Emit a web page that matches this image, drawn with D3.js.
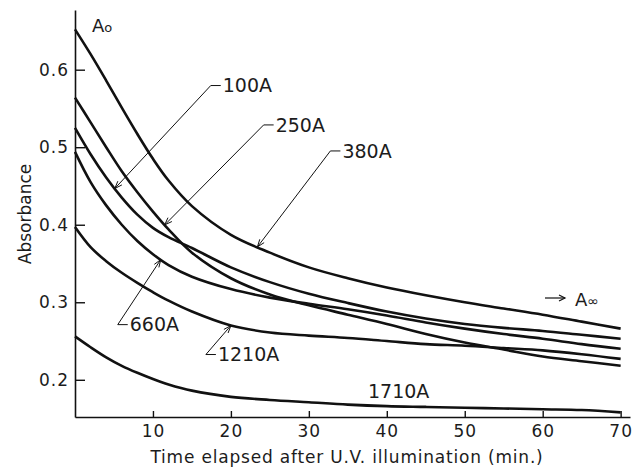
<!DOCTYPE html>
<html>
<head>
<meta charset="utf-8">
<script src="https://cdn.jsdelivr.net/npm/d3@7"></script>
<style>
  body { margin: 0; background: #fff; }
  text { font-family: "DejaVu Sans", sans-serif; fill: #1c1c1c; }
</style>
</head>
<body>
<div id="chart"></div>
<script>
// time (min) and absorbance
const times = [0, 2, 4, 6, 8, 10, 12, 15, 20, 25, 30, 35, 40, 45, 50, 55, 60, 65, 70];
const a380 = [0.652, 0.620, 0.586, 0.551, 0.517, 0.485, 0.457, 0.424, 0.387, 0.364, 0.345, 0.331, 0.319, 0.309, 0.300, 0.292, 0.284, 0.275, 0.266];
const a250 = [0.564, 0.532, 0.500, 0.469, 0.442, 0.417, 0.394, 0.364, 0.331, 0.310, 0.296, 0.284, 0.272, 0.259, 0.248, 0.239, 0.230, 0.224, 0.218];
const a100 = [0.525, 0.491, 0.461, 0.435, 0.413, 0.396, 0.384, 0.370, 0.345, 0.326, 0.311, 0.299, 0.288, 0.279, 0.272, 0.267, 0.263, 0.258, 0.253];
const a660 = [0.494, 0.455, 0.425, 0.400, 0.379, 0.362, 0.348, 0.333, 0.317, 0.306, 0.298, 0.291, 0.283, 0.274, 0.266, 0.259, 0.253, 0.246, 0.240];
const a1210 = [0.397, 0.371, 0.353, 0.338, 0.325, 0.313, 0.302, 0.288, 0.270, 0.261, 0.257, 0.254, 0.250, 0.246, 0.244, 0.241, 0.238, 0.233, 0.227];
const a1710 = [0.256, 0.242, 0.229, 0.218, 0.209, 0.201, 0.194, 0.186, 0.178, 0.174, 0.171, 0.168, 0.166, 0.165, 0.164, 0.163, 0.162, 0.161, 0.158];

const seriesNames = ["380A", "250A", "100A", "660A", "1210A", "1710A"];
const seriesValues = [a380, a250, a100, a660, a1210, a1710];
const xTicks = [10, 20, 30, 40, 50, 60, 70];
const yTicks = [0.2, 0.3, 0.4, 0.5, 0.6];

const svgWidth = 635;
const svgHeight = 474;

const svg = d3.select("#chart")
  .append("svg")
  .attr("width", svgWidth)
  .attr("height", svgHeight);

const xScale = d3.scaleLinear().domain([0, 71.2]).range([75, 630]);
const yScale = d3.scaleLinear().domain([0.152, 0.677]).range([417, 10]);

// axes (ticks point inward like the original)
const xAxis = d3.axisBottom(xScale)
  .tickValues(xTicks)
  .tickFormat(d3.format("d"))
  .tickSizeInner(-6)
  .tickSizeOuter(0)
  .tickPadding(8);

svg.append("g")
  .attr("transform", "translate(0," + yScale.range()[0] + ")")
  .call(xAxis)
  .call(g => g.select(".domain").attr("stroke", "#111").attr("stroke-width", 1.6))
  .call(g => g.selectAll(".tick line").attr("stroke", "#111").attr("stroke-width", 1.4))
  .call(g => g.selectAll(".tick text").style("font-size", "17px").style("letter-spacing", "1px").attr("fill", "#1c1c1c"));

const yAxis = d3.axisLeft(yScale)
  .tickValues(yTicks)
  .tickFormat(d3.format(".1f"))
  .tickSizeInner(-10)
  .tickSizeOuter(0)
  .tickPadding(6);

svg.append("g")
  .attr("transform", "translate(" + xScale.range()[0] + ",0)")
  .call(yAxis)
  .call(g => g.select(".domain").attr("stroke", "#111").attr("stroke-width", 1.6))
  .call(g => g.selectAll(".tick line").attr("stroke", "#111").attr("stroke-width", 1.4))
  .call(g => g.selectAll(".tick text").style("font-size", "17px").style("letter-spacing", "1px").attr("fill", "#1c1c1c"));

// axis titles
svg.append("text")
  .attr("x", 347)
  .attr("y", 463)
  .style("text-anchor", "middle")
  .style("font-size", "17px")
  .style("letter-spacing", "0.8px")
  .text("Time elapsed after U.V. illumination (min.)");

svg.append("text")
  .attr("transform", "translate(31,214) rotate(-90)")
  .style("text-anchor", "middle")
  .style("font-size", "17px")
  .text("Absorbance");

// curves
const line = d3.line()
  .x(function(d) { return xScale(d[0]); })
  .y(function(d) { return yScale(d[1]); })
  .curve(d3.curveCatmullRom.alpha(0.5));

seriesValues.forEach(function(vals) {
  svg.append("path")
    .datum(times.map(function(t, i) { return [t, vals[i]]; }))
    .attr("fill", "none")
    .attr("stroke", "#111")
    .attr("stroke-width", 2.6)
    .attr("stroke-linejoin", "round")
    .attr("d", line);
});

// labels with leader lines: tip time on the curve, corner offset from tip (px)
const labelTipTimes = { "380A": 23.4, "250A": 11.5, "100A": 5.1, "660A": 11.0, "1210A": 20.0 };
const labelCorner = {
  "100A": [96, -103],
  "250A": [99, -100],
  "380A": [73, -96],
  "660A": [-43, 65],
  "1210A": [-25, 29]
};

function valueAt(vals, t) {
  const i = Math.max(1, d3.bisectLeft(times, t));
  const t0 = times[i - 1], t1 = times[i];
  return vals[i - 1] + (vals[i] - vals[i - 1]) * (t - t0) / (t1 - t0);
}

Object.keys(labelTipTimes).forEach(function(name) {
  const vals = seriesValues[seriesNames.indexOf(name)];
  const t = labelTipTimes[name];
  const tx = xScale(t), ty = yScale(valueAt(vals, t));
  const cx = tx + labelCorner[name][0], cy = ty + labelCorner[name][1];

  svg.append("path")
    .attr("d", "M" + (cx + 10) + "," + cy + "L" + cx + "," + cy + "L" + tx + "," + ty)
    .attr("fill", "none")
    .attr("stroke", "#111")
    .attr("stroke-width", 1);

  // small arrowhead at the tip
  const ang = Math.atan2(cy - ty, cx - tx);
  const hl = 8;
  svg.append("path")
    .attr("d", "M" + (tx + hl * Math.cos(ang + 0.35)) + "," + (ty + hl * Math.sin(ang + 0.35)) +
      "L" + tx + "," + ty +
      "L" + (tx + hl * Math.cos(ang - 0.35)) + "," + (ty + hl * Math.sin(ang - 0.35)))
    .attr("fill", "none")
    .attr("stroke", "#111")
    .attr("stroke-width", 1);

  svg.append("text")
    .attr("x", cx + 12)
    .attr("y", cy)
    .attr("dy", "0.36em")
    .style("font-size", "19px")
    .text(name);
});

svg.append("text")
  .attr("x", 368)
  .attr("y", 398)
  .style("font-size", "19px")
  .text("1710A");

// A0 and A-infinity marks
const a0 = svg.append("text")
  .attr("x", 92)
  .attr("y", 32)
  .style("font-size", "18px");
a0.append("tspan").text("A");
a0.append("tspan").style("font-size", "13px").text("o");

svg.append("line")
  .attr("x1", 545).attr("y1", 298)
  .attr("x2", 565).attr("y2", 298)
  .attr("stroke", "#111")
  .attr("stroke-width", 1.2);
svg.append("path")
  .attr("d", "M559,295L565,298L559,301")
  .attr("fill", "none")
  .attr("stroke", "#111")
  .attr("stroke-width", 1.2);

const ainf = svg.append("text")
  .attr("x", 575)
  .attr("y", 306)
  .style("font-size", "18px");
ainf.append("tspan").text("A");
ainf.append("tspan").style("font-size", "14px").text("\u221e");
</script>
</body>
</html>
